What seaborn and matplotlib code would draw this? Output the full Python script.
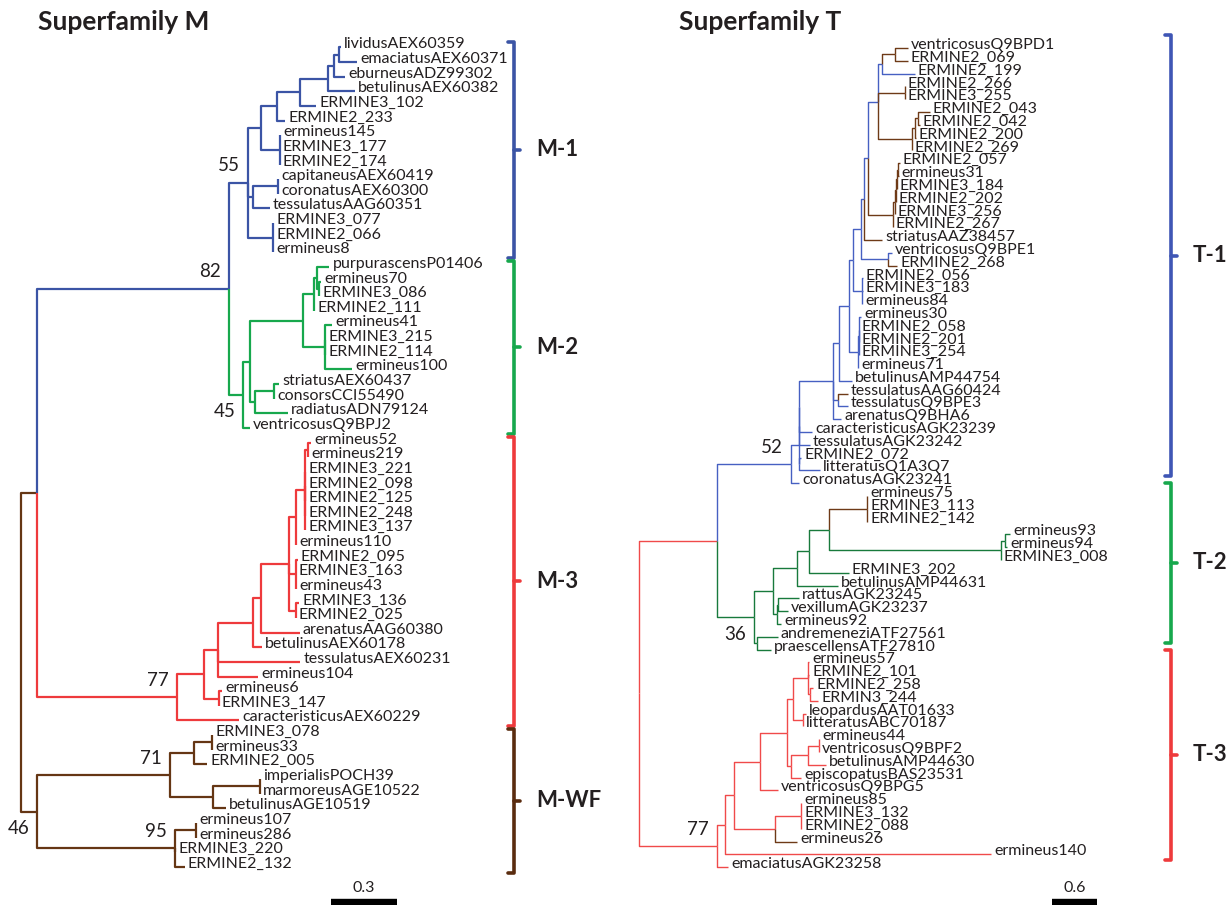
import pandas as pd
import seaborn as sns
import matplotlib.pyplot as plt
import matplotlib.transforms as mtransforms

# ---------------- Superfamily M ----------------
# tree topology (children listed top to bottom)
m_children = {
    "root": ["A", "WF"],
    "A": ["M12", "M3"],
    "M12": ["M1", "M2"],
    # M-1
    "M1": ["L6", "C", "E077"],
    "L6": ["L5", "E145"],
    "L5": ["L4", "ERMINE2_233"],
    "L4": ["L3", "ERMINE3_102"],
    "L3": ["L2", "betulinusAEX60382"],
    "L2": ["L1", "eburneusADZ99302"],
    "L1": ["lividusAEX60359", "emaciatusAEX60371"],
    "E145": ["ermineus145", "ERMINE3_177", "ERMINE2_174"],
    "C": ["CC", "tessulatusAAG60351"],
    "CC": ["capitaneusAEX60419", "coronatusAEX60300"],
    "E077": ["ERMINE3_077", "ERMINE2_066", "ermineus8"],
    # M-2
    "M2": ["G2", "ventricosusQ9BPJ2"],
    "G2": ["G3", "G4"],
    "G3": ["G5", "G6"],
    "G5": ["G7", "ERMINE2_111"],
    "G7": ["purpurascensP01406", "G8"],
    "G8": ["ermineus70", "ERMINE3_086"],
    "G6": ["ermineus41", "ERMINE3_215", "ERMINE2_114", "ermineus100"],
    "G4": ["G9", "radiatusADN79124"],
    "G9": ["striatusAEX60437", "consorsCCI55490"],
    # M-3
    "M3": ["R9", "caracteristicusAEX60229"],
    "R9": ["R8", "R10"],
    "R8": ["R7", "tessulatusAEX60231", "ermineus104"],
    "R7": ["R6", "betulinusAEX60178"],
    "R6": ["R3", "arenatusAAG60380"],
    "R3": ["R2", "R4", "R5"],
    "R2": ["R1", "ermineus110"],
    "R1": ["R1a", "ERMINE3_221", "ERMINE2_098", "ERMINE2_125", "ERMINE2_248", "ERMINE3_137"],
    "R1a": ["ermineus52", "ermineus219"],
    "R4": ["ERMINE2_095", "ERMINE3_163", "ermineus43"],
    "R5": ["ERMINE3_136", "ERMINE2_025"],
    "R10": ["ermineus6", "ERMINE3_147"],
    # M-WF
    "WF": ["WFa", "WFb"],
    "WFa": ["W1", "W2"],
    "W1": ["W1a", "ERMINE2_005"],
    "W1a": ["ERMINE3_078", "ermineus33"],
    "W2": ["W2a", "betulinusAGE10519"],
    "W2a": ["imperialisPOCH39", "marmoreusAGE10522"],
    "WFb": ["W3", "ERMINE3_220", "ERMINE2_132"],
    "W3": ["ermineus107", "ermineus286"],
}

# branch lengths (substitutions per site); branches not listed have length 0
m_branch = {
    "A": 0.073, "WF": 0.073, "M12": 0.873, "M3": 0.636, "M1": 0.086, "M2": 0.064,
    "L6": 0.059, "L5": 0.073, "L4": 0.105, "L3": 0.127, "L2": 0.027, "L1": 0.023,
    "lividusAEX60359": 0.009, "emaciatusAEX60371": 0.082, "eburneusADZ99302": 0.050,
    "betulinusAEX60382": 0.123, "ERMINE3_102": 0.073, "ERMINE2_233": 0.036,
    "E145": 0.086, "C": 0.023, "CC": 0.114, "tessulatusAAG60351": 0.077, "E077": 0.114,
    "G2": 0.032, "ventricosusQ9BPJ2": 0.032, "G3": 0.241, "G4": 0.023, "G5": 0.050,
    "G6": 0.100, "G7": 0.014, "purpurascensP01406": 0.055, "G8": 0.009, "ermineus70": 0.009,
    "ermineus41": 0.032, "ermineus100": 0.123, "G9": 0.086, "striatusAEX60437": 0.023,
    "radiatusADN79124": 0.150,
    "R9": 0.123, "caracteristicusAEX60229": 0.282, "R8": 0.064, "R10": 0.068,
    "ermineus6": 0.014, "R7": 0.159, "tessulatusAEX60231": 0.373, "ermineus104": 0.182,
    "R6": 0.036, "betulinusAEX60178": 0.041, "R3": 0.127, "arenatusAAG60380": 0.177,
    "R2": 0.032, "R4": 0.032, "R5": 0.032, "R1": 0.041, "R1a": 0.014, "ermineus52": 0.014,
    "ERMINE2_095": 0.009, "ERMINE3_136": 0.014,
    "WFa": 0.605, "WFb": 0.627, "W1": 0.109, "W2": 0.195, "W1a": 0.082,
    "ERMINE2_005": 0.059, "W2a": 0.214, "betulinusAGE10519": 0.059, "W3": 0.095,
    "ERMINE2_132": 0.045,
}

# colour group of each branch (inherited by descendants)
m_group = {"root": "brown", "M12": "blue", "M2": "green", "M3": "red"}

m_support_nodes = ["M1", "M12", "M2", "M3", "WFa", "WFb", "WF"]
m_support_values = [55, 82, 45, 77, 71, 95, 46]

m_clade_labels = ["M-1", "M-2", "M-3", "M-WF"]
m_clade_first = ["lividusAEX60359", "purpurascensP01406", "ermineus52", "ERMINE3_078"]
m_clade_last = ["ermineus8", "ventricosusQ9BPJ2", "caracteristicusAEX60229", "ERMINE2_132"]
m_scale = 0.3

# ---------------- Superfamily T ----------------
t_children = {
    "root": ["T12", "T3"],
    "T12": ["T1", "T2"],
    # T-1
    "T1": ["T1a", "coronatusAGK23241"],
    "T1a": ["T1b", "T1d"],
    "T1b": ["T1c", "tessulatusAGK23242"],
    "T1c": ["TNbig", "caracteristicusAGK23239"],
    "T1d": ["ERMINE2_072", "litteratusQ1A3Q7"],
    "TNbig": ["TN9", "TT", "arenatusQ9BHA6"],
    "TT": ["tessulatusAAG60424", "tessulatusQ9BPE3"],
    "TN9": ["TN8", "betulinusAMP44754"],
    "TN8": ["TN7", "TG9"],
    "TG9": ["TG9a", "ermineus71"],
    "TG9a": ["ermineus30", "ERMINE2_058", "ERMINE2_201", "ERMINE3_254"],
    "TN7": ["TN5", "TG8"],
    "TG8": ["ERMINE2_056", "ERMINE3_183", "ermineus84"],
    "TN5": ["TN4", "TN6"],
    "TN6": ["ventricosusQ9BPE1", "ERMINE2_268"],
    "TN4": ["TN3", "striatusAAZ38457"],
    "TN3": ["TN2", "TB4"],
    "TB4": ["TB4a", "ERMINE2_267"],
    "TB4a": ["TB4b", "ERMINE3_256"],
    "TB4b": ["TB4c", "ERMINE2_202"],
    "TB4c": ["TB4d", "ERMINE3_184"],
    "TB4d": ["ERMINE2_057", "ermineus31"],
    "TN2": ["TN1", "TG3", "TB3"],
    "TN1": ["TB1", "ERMINE2_199"],
    "TB1": ["ventricosusQ9BPD1", "ERMINE2_069"],
    "TG3": ["ERMINE2_266", "ERMINE3_255"],
    "TB3": ["TB3a", "ERMINE2_269"],
    "TB3a": ["TB3b", "ERMINE2_200"],
    "TB3b": ["ERMINE2_043", "ERMINE2_042"],
    # T-2
    "T2": ["T2a", "T2p"],
    "T2a": ["T2b", "T2c"],
    "T2b": ["T2e", "betulinusAMP44631"],
    "T2e": ["T2f", "ERMINE3_202"],
    "T2f": ["T2g", "T2h"],
    "T2g": ["ermineus75", "ERMINE3_113", "ERMINE2_142"],
    "T2h": ["T2i", "ERMINE3_008"],
    "T2i": ["ermineus93", "ermineus94"],
    "T2c": ["T2d", "ermineus92"],
    "T2d": ["rattusAGK23245", "vexillumAGK23237"],
    "T2p": ["andremeneziATF27561", "praescellensATF27810"],
    # T-3
    "T3": ["T3a", "emaciatusAGK23258"],
    "T3a": ["T3b", "ermineus140"],
    "T3b": ["T3c", "T3k"],
    "T3c": ["T3d", "ventricosusQ9BPG5"],
    "T3d": ["T3e", "T3f"],
    "T3e": ["T3h", "T3i"],
    "T3h": ["ermineus57", "ERMINE2_101", "T3h3"],
    "T3h3": ["ERMINE2_258", "ERMIN3_244"],
    "T3i": ["leopardusAAT01633", "litteratusABC70187"],
    "T3f": ["T3g", "episcopatusBAS23531"],
    "T3g": ["T3g2", "betulinusAMP44630"],
    "T3g2": ["ermineus44", "ventricosusQ9BPF2"],
    "T3k": ["T3l", "ermineus26"],
    "T3l": ["ermineus85", "ERMINE3_132", "ERMINE2_088"],
}

t_branch = {
    "T12": 1.040, "T3": 1.040, "T1": 0.987, "T2": 0.493,
    "T1a": 0.107, "coronatusAGK23241": 0.107, "tessulatusAGK23242": 0.147,
    "TNbig": 0.453, "caracteristicusAGK23239": 0.173, "ERMINE2_072": 0.027,
    "litteratusQ1A3Q7": 0.280, "TN9": 0.080, "TT": 0.067, "arenatusQ9BHA6": 0.107,
    "tessulatusAAG60424": 0.133, "tessulatusQ9BPE3": 0.133, "TN8": 0.133,
    "betulinusAMP44754": 0.173, "TN7": 0.053, "TG9": 0.120, "TG9a": 0.013,
    "ermineus30": 0.027, "TN5": 0.107, "TG8": 0.120, "ERMINE2_056": 0.013,
    "ERMINE3_183": 0.013, "TN4": 0.040, "TN6": 0.360, "ventricosusQ9BPE1": 0.053,
    "ERMINE2_268": 0.120, "TN3": 0.053, "striatusAAZ38457": 0.240, "TN2": 0.133,
    "TB4": 0.333, "TB4a": 0.027, "TB4b": 0.013, "TB4c": 0.013, "TB4d": 0.013,
    "ERMINE2_057": 0.027, "ermineus31": 0.013, "TN1": 0.053, "TG3": 0.360,
    "TB3": 0.453, "TB1": 0.173, "ERMINE2_199": 0.440, "ventricosusQ9BPD1": 0.173,
    "ERMINE2_069": 0.173, "TB3a": 0.040, "TB3b": 0.040, "ERMINE2_200": 0.013,
    "ERMINE2_043": 0.160, "ERMINE2_042": 0.027,
    "T2a": 0.253, "T2p": 0.040, "andremeneziATF27561": 0.280, "praescellensATF27810": 0.187,
    "T2b": 0.320, "T2c": 0.053, "T2d": 0.013, "ermineus92": 0.053,
    "rattusAGK23245": 0.280, "vexillumAGK23237": 0.133, "T2e": 0.160,
    "betulinusAMP44631": 0.547, "T2f": 0.267, "ERMINE3_202": 0.533, "T2g": 0.507,
    "T2h": 2.293, "T2i": 0.053, "ermineus93": 0.067, "ermineus94": 0.027,
    "T3a": 0.107, "emaciatusAGK23258": 0.147, "T3b": 0.120, "ermineus140": 3.547,
    "T3c": 0.347, "T3k": 0.547, "T3l": 0.347, "ermineus26": 0.293, "T3d": 0.360,
    "ventricosusQ9BPG5": 0.240, "T3e": 0.080, "T3f": 0.053, "T3h": 0.200, "T3i": 0.133,
    "ermineus57": 0.013, "ERMINE2_101": 0.013, "T3h3": 0.027, "ERMINE2_258": 0.040,
    "ERMIN3_244": 0.107, "leopardusAAT01633": 0.040, "T3g": 0.227,
    "episcopatusBAS23531": 0.133, "T3g2": 0.147, "betulinusAMP44630": 0.240,
}

t_group = {
    "root": "red", "T1": "blue", "T2": "green",
    "TB1": "brown", "TG3": "brown", "TB3": "brown", "TB4": "brown",
    "striatusAAZ38457": "brown", "ERMINE2_268": "brown", "tessulatusAAG60424": "brown",
    "T2g": "brown", "ermineus26": "brown",
}

t_support_nodes = ["T1", "T2", "T3"]
t_support_values = [52, 36, 77]

t_clade_labels = ["T-1", "T-2", "T-3"]
t_clade_first = ["ventricosusQ9BPD1", "ermineus75", "ermineus57"]
t_clade_last = ["coronatusAGK23241", "praescellensATF27810", "emaciatusAGK23258"]
t_scale = 0.6


def layout(children, branch, groups):
    xs, ys, grp, parent, leaves = {}, {}, {}, {}, []

    def walk(node, x, g):
        g = groups.get(node, g)
        xs[node], grp[node] = x, g
        kids = children.get(node, [])
        for k in kids:
            parent[k] = node
            walk(k, x + branch.get(k, 0.0), g)
        if kids:
            ys[node] = (ys[kids[0]] + ys[kids[-1]]) / 2
        else:
            ys[node] = len(leaves)
            leaves.append(node)

    walk("root", 0.0, None)
    return xs, ys, grp, parent, leaves


def draw_tree(ax, children, branch, groups, palette, lw, label_size):
    xs, ys, grp, parent, leaves = layout(children, branch, groups)
    rows = []
    for node, p in parent.items():
        for x, y in [(xs[p], ys[p]), (xs[p], ys[node]), (xs[node], ys[node])]:
            rows.append({"seg": node, "x": x, "y": y, "group": grp[node]})
    seg = pd.DataFrame(rows)
    sns.lineplot(data=seg, x="x", y="y", units="seg", estimator=None, hue="group",
                 palette=palette, sort=False, legend=False, lw=lw, ax=ax,
                 solid_capstyle="butt")
    for leaf in leaves:
        ax.annotate(leaf, (xs[leaf], ys[leaf]), xytext=(3, 3), textcoords="offset pixels",
                    ha="left", va="center", fontsize=label_size, color="#231f20")
    return xs, ys


def frame(ax, root_px, unit_px, top_px, step_px, width_px=614.5, height_px=905):
    ax.set_xlim(-root_px / unit_px, (width_px - root_px) / unit_px)
    ax.set_ylim((height_px - top_px) / step_px, -top_px / step_px)
    ax.set_axis_off()


def support(ax, xs, ys, nodes, values, below):
    for n, v in zip(nodes, values):
        dy = -17 if n in below else 17
        ax.annotate(str(v), (xs[n], ys[n]), xytext=(-8, dy), textcoords="offset pixels",
                    ha="right", va="center", fontsize=13.5, color="#231f20")


def brackets(ax, ys, labels, first, last, colours, xb, pad_top, pad_bot, width_px=614.5):
    trans = mtransforms.blended_transform_factory(ax.transAxes, ax.transData)
    hook = 6 / width_px
    for lab, f, l, c in zip(labels, first, last, colours):
        y0, y1 = ys[f] - pad_top, ys[l] + pad_bot
        ym = (y0 + y1) / 2
        ax.plot([xb - hook, xb, xb, xb - hook], [y0, y0, y1, y1], transform=trans,
                color=c, lw=2.6, solid_joinstyle="round", solid_capstyle="round")
        ax.plot([xb, xb + hook], [ym, ym], transform=trans, color=c, lw=2.6,
                solid_capstyle="round")
        ax.text(xb + 22 / width_px, ym, lab, transform=trans, ha="left", va="center",
                fontsize=16, fontweight="bold", color="#231f20")


def scale_bar(ax, x0, length, label, height_px=905):
    trans = mtransforms.blended_transform_factory(ax.transData, ax.transAxes)
    ax.plot([x0, x0 + length], [3 / height_px] * 2, transform=trans, color="black",
            lw=4.6, solid_capstyle="butt", clip_on=False)
    ax.text(x0 + length / 2, 17 / height_px, label, transform=trans, ha="center",
            va="center", fontsize=11.5, color="#231f20")


sns.set_theme(style="white")
plt.rcParams["font.family"] = ["Lato", "DejaVu Sans"]

fig = plt.figure(figsize=(12.29, 9.05), dpi=100)
ax_m = fig.add_axes([0, 0, 0.5, 1])
ax_t = fig.add_axes([0.5, 0, 0.5, 1])

# Superfamily M
m_pal = {"blue": "#3b54a5", "green": "#17a84d", "red": "#ee3a3c", "brown": "#653614"}
xs, ys = draw_tree(ax_m, m_children, m_branch, m_group, m_pal, 1.6, 11.5)
frame(ax_m, root_px=21, unit_px=220, top_px=47.5, step_px=14.63)
support(ax_m, xs, ys, m_support_nodes, m_support_values, below={"M2", "WF"})
brackets(ax_m, ys, m_clade_labels, m_clade_first, m_clade_last,
         ["#3b54a5", "#17a84d", "#ee3a3c", "#5a2c0f"], xb=514 / 614.5,
         pad_top=0.4, pad_bot=0.4)
scale_bar(ax_m, (331 - 21) / 220, m_scale, "0.3")

# Superfamily T
t_pal = {"blue": "#4660c2", "green": "#187a3c", "red": "#f04a4a", "brown": "#6e3a17"}
xs, ys = draw_tree(ax_t, t_children, t_branch, t_group, t_pal, 1.0, 11.5)
frame(ax_t, root_px=24.5, unit_px=75, top_px=48, step_px=12.8)
support(ax_t, xs, ys, t_support_nodes, t_support_values, below={"T2"})
brackets(ax_t, ys, t_clade_labels, t_clade_first, t_clade_last,
         ["#3f56b5", "#17a84d", "#ee3a3c"], xb=(1171 - 614.5) / 614.5,
         pad_top=1.0, pad_bot=-0.55)
scale_bar(ax_t, (1052 - 639) / 75, t_scale, "0.6")

fig.text(38 / 1229, 1 - 22 / 905, "Superfamily M", ha="left", va="center",
         fontsize=19, fontweight="bold", color="#231f20")
fig.text(679 / 1229, 1 - 22 / 905, "Superfamily T", ha="left", va="center",
         fontsize=19, fontweight="bold", color="#231f20")

fig.savefig("out.png", dpi=100)
